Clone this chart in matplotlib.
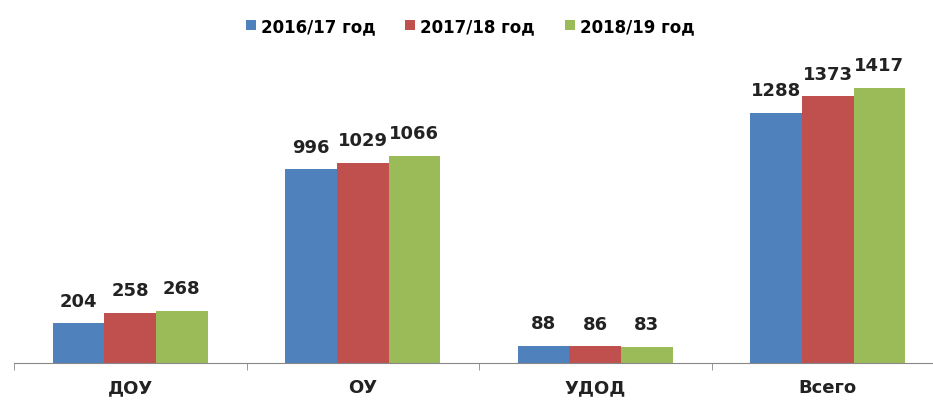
import numpy as np
import matplotlib.pyplot as plt
from matplotlib.ticker import FixedLocator

categories = ["ДОУ", "ОУ", "УДОД", "Всего"]
series_names = ["2016/17 год", "2017/18 год", "2018/19 год"]
v2016 = [204, 996, 88, 1288]
v2017 = [258, 1029, 86, 1373]
v2018 = [268, 1066, 83, 1417]
colors = ["#4F81BD", "#C0504D", "#9BBB59"]

fig = plt.figure(figsize=(9.33, 4.06), dpi=100)
# axis runs past the right edge like in the original
ax = fig.add_axes([14 / 933, 42 / 406, 930 / 933, 311 / 406])

x = np.arange(len(categories))
w = 0.222
for i, (vals, name) in enumerate(zip([v2016, v2017, v2018], series_names)):
    bars = ax.bar(x + (i - 1) * w, vals, w, color=colors[i], label=name)
    for b, v in zip(bars, vals):
        ax.text(b.get_x() + b.get_width() / 2, v + 70, str(v), ha="center", va="bottom",
                fontsize=13, fontweight="bold", color="#222222")

ax.set_xlim(-0.5, 3.5)
ax.set_ylim(0, 1600)
ax.set_yticks([])
for s in ["top", "right", "left"]:
    ax.spines[s].set_visible(False)
ax.spines["bottom"].set_color("#888888")
ax.set_xticks(x)
ax.set_xticklabels(categories, fontsize=13, fontweight="bold", color="#222222")
ax.tick_params(axis="x", which="major", length=0, pad=11)
ax.xaxis.set_minor_locator(FixedLocator([-0.5, 0.5, 1.5, 2.5, 3.5]))
ax.tick_params(axis="x", which="minor", length=5, color="#888888")

fig.legend(loc="center", bbox_to_anchor=(470 / 933, 1 - 27 / 406), ncol=3, frameon=False,
           handlelength=0.6, handleheight=0.6, handletextpad=0.3, columnspacing=1.8,
           prop={"weight": "bold", "size": 12})

fig.savefig("out.png", dpi=100)
